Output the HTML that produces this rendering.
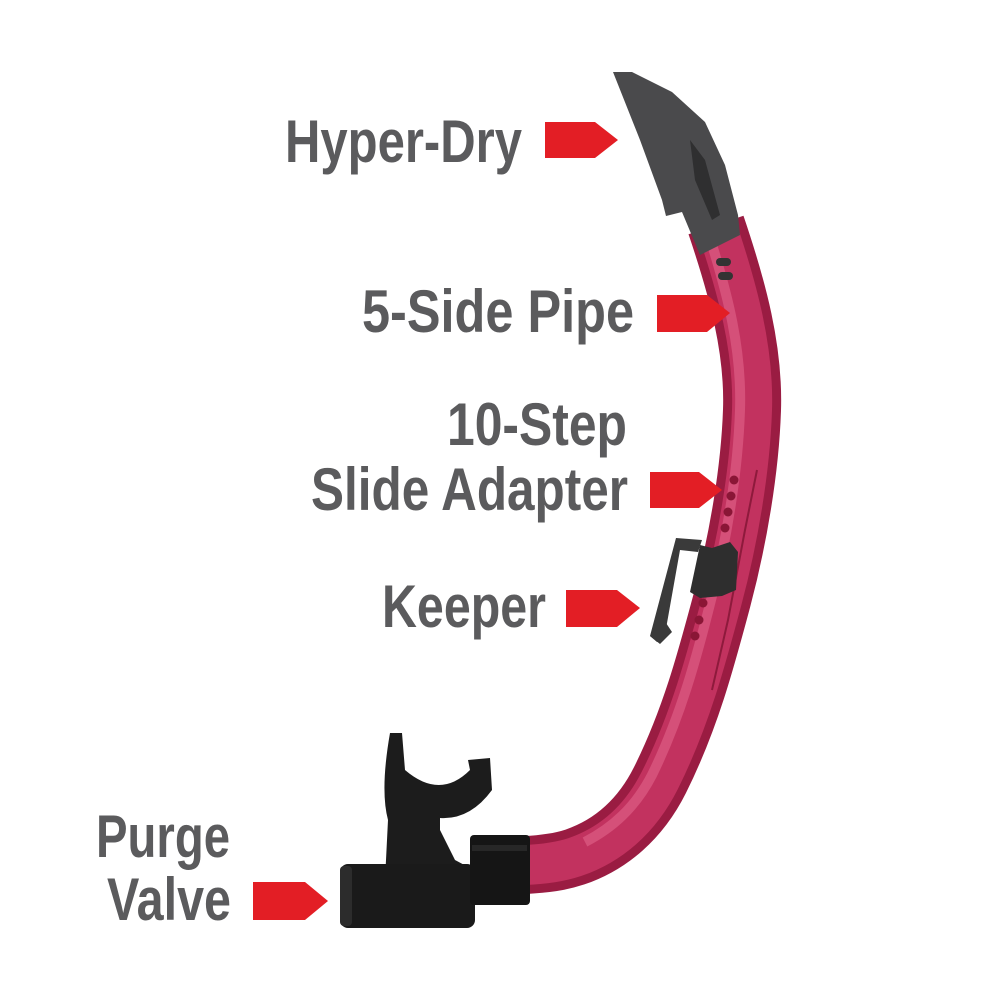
<!DOCTYPE html>
<html><head><style>
html,body{margin:0;padding:0;background:#fff;}
svg{display:block}
text{font-family:"Liberation Sans",sans-serif;font-weight:bold;fill:#5b5b5d;font-size:60px}
</style></head><body>
<svg width="1000" height="1000" viewBox="0 0 1000 1000">
<!-- labels -->
<text x="285" y="162" textLength="237" lengthAdjust="spacingAndGlyphs">Hyper-Dry</text>
<text x="362" y="332" textLength="272" lengthAdjust="spacingAndGlyphs">5-Side Pipe</text>
<text x="447" y="445" textLength="180" lengthAdjust="spacingAndGlyphs">10-Step</text>
<text x="311" y="510" textLength="317" lengthAdjust="spacingAndGlyphs">Slide Adapter</text>
<text x="382" y="627" textLength="164" lengthAdjust="spacingAndGlyphs">Keeper</text>
<text x="96" y="857" textLength="134" lengthAdjust="spacingAndGlyphs">Purge</text>
<text x="107" y="920" textLength="124" lengthAdjust="spacingAndGlyphs">Valve</text>
<!-- tube -->
<path d="M716,225 C738,290 754,350 752,410 C750,470 738,540 722,600 C706,660 690,720 660,780 C640,820 610,845 575,857 C560,862 545,864 525,865" fill="none" stroke="#9a1c42" stroke-width="58"/>
<path d="M716,225 C738,290 754,350 752,410 C750,470 738,540 722,600 C706,660 690,720 660,780 C640,820 610,845 575,857 C560,862 545,864 525,865" fill="none" stroke="#c2325f" stroke-width="40"/>
<path d="M709,235 C728,295 742,350 740,410 C738,470 727,540 711,600 C696,660 680,718 652,775 C635,808 612,828 585,842" fill="none" stroke="#d9577f" stroke-width="10" opacity="0.8"/>
<!-- stripe lines -->
<path d="M757,470 L745,530 L728,620 L712,690" fill="none" stroke="#8e1a3c" stroke-width="2"/>
<!-- holes -->
<g fill="#8a1636">
<circle cx="734" cy="480" r="4.5"/><circle cx="731" cy="496" r="4.5"/><circle cx="728" cy="512" r="4.5"/><circle cx="725" cy="528" r="4.5"/>
<circle cx="703" cy="603" r="4.5"/><circle cx="699" cy="620" r="4.5"/><circle cx="695" cy="636" r="4.5"/>
</g>
<rect x="716" y="258" width="15" height="8" rx="4" fill="#333"/>
<rect x="718" y="272" width="15" height="8" rx="4" fill="#333"/>
<!-- keeper -->
<path d="M700,545 L712,548 L730,542 L738,552 L736,590 L722,596 L700,598 L690,592 Z" fill="#2e2e2e"/>
<path d="M676,538 L702,540 L698,552 L680,550 L664,640 L657,642 L650,636 Z" fill="#3a3a3a"/>
<path d="M650,636 L664,620 L672,632 L660,644 Z" fill="#3a3a3a"/>
<!-- top splash guard -->
<polygon points="613,72 632,72 672,92 705,122 725,165 738,215 740,235 700,255 682,212 666,216 662,200 640,140" fill="#4a4a4c"/>
<polygon points="690,140 705,160 720,215 712,220 695,180" fill="#2f2f30"/>
<!-- bottom black parts -->
<path d="M390,733 L402,733 L405,770 Q440,800 470,770 L468,760 L490,758 L492,790 Q470,820 440,818 L440,830 L455,860 L470,868 L470,915 L400,915 L385,880 L388,820 Q380,790 390,733 Z" fill="#1c1c1c"/>
<rect x="340" y="864" width="135" height="64" rx="8" fill="#1a1a1a"/>
<rect x="340" y="866" width="12" height="60" rx="4" fill="#2c2c2c"/>
<rect x="470" y="835" width="60" height="70" rx="4" fill="#151515"/>
<rect x="472" y="845" width="55" height="6" fill="#333" opacity="0.6"/>
<!-- arrows -->
<g fill="#e31e25">
<polygon points="545,122 595,122 618,140 595,158 545,158"/>
<polygon points="657,295 707,295 730,313 707,332 657,332"/>
<polygon points="650,472 699,472 722,490 699,508 650,508"/>
<polygon points="566,590 617,590 640,608 617,627 566,627"/>
<polygon points="253,882 305,882 328,901 305,920 253,920"/>
</g>
</svg>
</body></html>
